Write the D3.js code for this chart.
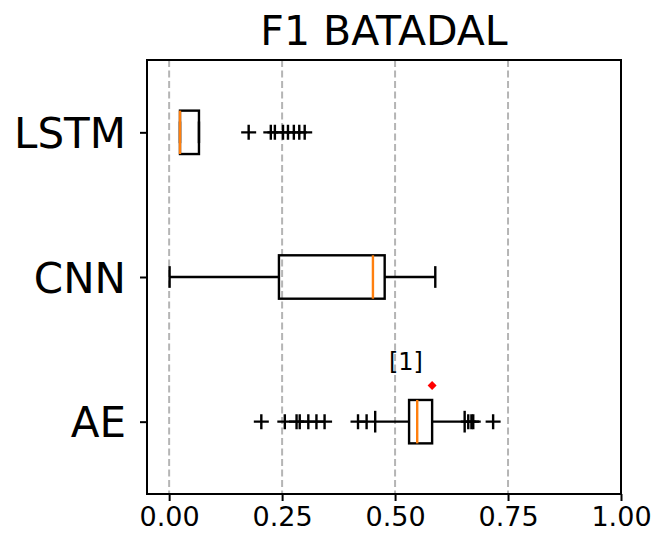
<!DOCTYPE html>
<html>
<head>
<meta charset="utf-8">
<script src="https://cdn.jsdelivr.net/npm/d3@7"></script>
<style>
  body { margin: 0; background: #fff; }
  svg { font-family: "DejaVu Sans", sans-serif; }
</style>
</head>
<body>
<svg id="chart" width="656" height="539"></svg>
<script>
// box stats, one entry per model
const models = ["AE", "CNN", "LSTM"];
const whiskerLow = [0.456, 0.001, 0.024];
const q1 = [0.531, 0.243, 0.024];
const median = [0.549, 0.451, 0.024];
const q3 = [0.582, 0.477, 0.066];
const whiskerHigh = [0.654, 0.589, 0.066];
const fliers = [
    [0.204, 0.256, 0.282, 0.289, 0.308, 0.326, 0.344, 0.418, 0.437, 0.662, 0.669, 0.673, 0.717],
    [],
    [0.176, 0.225, 0.234, 0.252, 0.263, 0.276, 0.288, 0.300]
];
const xTicks = [0, 0.25, 0.5, 0.75, 1.0];
// red marker + its note on the AE row
const note = { x: 0.582, y: 1.25, label: "[1]", lx: 0.524, ly: 1.36 };

const margin = { top: 60, right: 35, bottom: 45, left: 147 };
const width = 656 - margin.left - margin.right;
const height = 539 - margin.top - margin.bottom;

const svg = d3.select("#chart");
const g = svg.append("g").attr("transform", `translate(${margin.left},${margin.top})`);

const x = d3.scaleLinear().domain([-0.049, 1.0]).range([0, width]);
const y = d3.scaleLinear().domain([0.5, 3.5]).range([height, 0]);
const boxH = y(0) - y(0.3);
const capH = boxH / 2;
const lw = 2.4;

// grid
g.selectAll(".grid")
    .data(xTicks)
    .enter()
    .append("line")
    .attr("x1", d => x(d)).attr("x2", d => x(d))
    .attr("y1", 0).attr("y2", height)
    .attr("stroke", "#b5b5b5")
    .attr("stroke-width", 2)
    .attr("stroke-dasharray", "7,3.5");

const rows = models.map((m, i) => ({
    name: m, pos: i + 1,
    lo: whiskerLow[i], q1: q1[i], med: median[i], q3: q3[i], hi: whiskerHigh[i], out: fliers[i]
}));

const row = g.selectAll(".row").data(rows).enter().append("g");

// whiskers
row.append("line")
    .attr("x1", d => x(d.lo)).attr("x2", d => x(d.q1))
    .attr("y1", d => y(d.pos)).attr("y2", d => y(d.pos))
    .attr("stroke", "#000").attr("stroke-width", lw);
row.append("line")
    .attr("x1", d => x(d.q3)).attr("x2", d => x(d.hi))
    .attr("y1", d => y(d.pos)).attr("y2", d => y(d.pos))
    .attr("stroke", "#000").attr("stroke-width", lw);
// caps
row.selectAll(".cap")
    .data(d => [d.lo, d.hi].map(v => ({ v: v, pos: d.pos })))
    .enter()
    .append("line")
    .attr("x1", d => x(d.v)).attr("x2", d => x(d.v))
    .attr("y1", d => y(d.pos) - capH / 2).attr("y2", d => y(d.pos) + capH / 2)
    .attr("stroke", "#000").attr("stroke-width", lw);
// box
row.append("rect")
    .attr("x", d => x(d.q1))
    .attr("width", d => x(d.q3) - x(d.q1))
    .attr("y", d => y(d.pos) - boxH / 2)
    .attr("height", boxH)
    .attr("fill", "none")
    .attr("stroke", "#000").attr("stroke-width", lw);
// median
row.append("line")
    .attr("x1", d => x(d.med)).attr("x2", d => x(d.med))
    .attr("y1", d => y(d.pos) - boxH / 2).attr("y2", d => y(d.pos) + boxH / 2)
    .attr("stroke", "#ff7f0e").attr("stroke-width", lw);
// fliers
row.selectAll(".flier")
    .data(d => d.out.map(v => ({ v: v, pos: d.pos })))
    .enter()
    .append("path")
    .attr("d", d => {
        const cx = x(d.v), cy = y(d.pos), r = 7.5;
        return `M${cx - r},${cy}H${cx + r}M${cx},${cy - r}V${cy + r}`;
    })
    .attr("stroke", "#000").attr("stroke-width", lw).attr("fill", "none");

// note marker
g.append("path")
    .attr("d", d3.symbol().type(d3.symbolSquare).size(40)())
    .attr("transform", `translate(${x(note.x)},${y(note.y)}) rotate(45)`)
    .attr("fill", "#ff0000");
g.append("text")
    .attr("x", x(note.lx)).attr("y", y(note.ly))
    .attr("text-anchor", "middle")
    .attr("font-size", 24)
    .text(note.label);

// frame
g.append("rect")
    .attr("width", width).attr("height", height)
    .attr("fill", "none").attr("stroke", "#000").attr("stroke-width", 2);

// axes
const xAxis = g.append("g")
    .attr("transform", `translate(0,${height})`)
    .call(d3.axisBottom(x).tickValues(xTicks).tickFormat(d3.format(".2f")).tickSize(7).tickPadding(6));
const yAxis = g.append("g")
    .call(d3.axisLeft(y).tickValues([1, 2, 3]).tickFormat(d => models[d - 1]).tickSize(7).tickPadding(14));
[xAxis, yAxis].forEach(a => {
    a.select(".domain").remove();
    a.selectAll("line").attr("stroke", "#000").attr("stroke-width", 2);
    a.selectAll("text").attr("fill", "#000").style("font-family", "DejaVu Sans");
});
xAxis.selectAll("text").attr("font-size", 27);
yAxis.selectAll("text").attr("font-size", 42).attr("dy", "0.36em");

// title
svg.append("text")
    .attr("x", margin.left + width / 2).attr("y", 45)
    .attr("text-anchor", "middle")
    .attr("font-size", 41)
    .text("F1 BATADAL");
</script>
</body>
</html>
